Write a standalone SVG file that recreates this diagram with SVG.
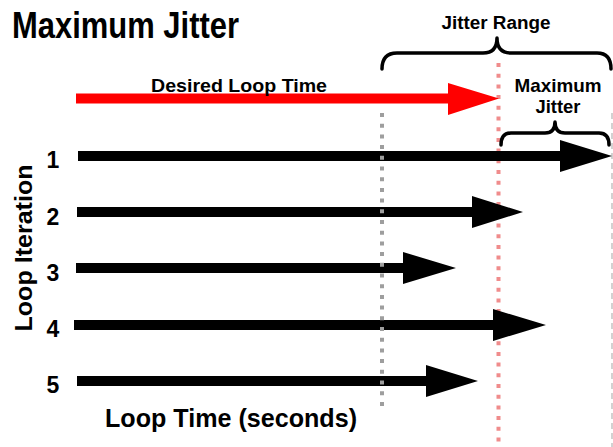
<svg xmlns="http://www.w3.org/2000/svg" width="613" height="447" viewBox="0 0 613 447">
  <style>
    text { font-family: "Liberation Sans", Arial, Helvetica, sans-serif; font-weight: bold; fill: #000; }
    .num { font-size: 23px; text-anchor: middle; }
    .brace { fill: none; stroke: #000; stroke-width: 3.5; stroke-linecap: round; stroke-linejoin: round; }
    .arrow { fill: #000; }
    .desired { fill: #ff0000; }
    .guide-min { stroke: #9e9e9e; stroke-width: 4; stroke-dasharray: 4 6.7; fill: none; }
    .guide-target { stroke: #f08c8c; stroke-width: 4; stroke-dasharray: 4 6.7; fill: none; }
    .guide-max { stroke: #c4c4c4; stroke-width: 1.5; stroke-dasharray: 6 4; fill: none; }
  </style>

  <rect width="613" height="447" fill="#ffffff"/>

  <!-- title -->
  <text id="title" x="12" y="38" font-size="36" textLength="227" lengthAdjust="spacingAndGlyphs">Maximum Jitter</text>

  <!-- axis labels -->
  <text id="y-axis-label" transform="translate(32,248) rotate(-90)" text-anchor="middle" font-size="23" textLength="167" lengthAdjust="spacingAndGlyphs">Loop Iteration</text>
  <text id="x-axis-label" x="105" y="427" font-size="25" textLength="252" lengthAdjust="spacingAndGlyphs">Loop Time (seconds)</text>

  <!-- reference lines drawn beneath the arrows -->
  <g id="guides-under">
    <line class="guide-target" x1="498.5" y1="63" x2="498.5" y2="447"/>
    <line class="guide-max" x1="612" y1="113" x2="612" y2="447"/>
  </g>

  <!-- desired loop time -->
  <g id="desired-loop-time">
    <path class="desired" d="M76,93.5 H448 V83 L499,98.5 L448,115 V103.5 H76 Z"/>
    <text x="151" y="92" font-size="19" textLength="176" lengthAdjust="spacingAndGlyphs">Desired Loop Time</text>
  </g>

  <!-- loop iterations -->
  <g id="iteration-1">
    <text class="num" x="53" y="168">1</text>
    <path class="arrow" d="M78,151 H560 V140 L612,156 L560,172 V161 H78 Z"/>
  </g>
  <g id="iteration-2">
    <text class="num" x="53" y="225">2</text>
    <path class="arrow" d="M77,207 H472 V196 L523,212 L472,228 V217 H77 Z"/>
  </g>
  <g id="iteration-3">
    <text class="num" x="53" y="281">3</text>
    <path class="arrow" d="M76,263 H403 V252 L456,268 L403,284 V273 H76 Z"/>
  </g>
  <g id="iteration-4">
    <text class="num" x="53" y="337">4</text>
    <path class="arrow" d="M74,320 H493 V309 L546,325 L493,341 V330 H74 Z"/>
  </g>
  <g id="iteration-5">
    <text class="num" x="53" y="393">5</text>
    <path class="arrow" d="M77,376 H426 V365 L478,381 L426,397 V386 H77 Z"/>
  </g>

  <!-- minimum loop time guide, drawn over the arrows -->
  <g id="guides-over">
    <line class="guide-min" x1="382" y1="113" x2="382" y2="408"/>
  </g>

  <!-- jitter range brace -->
  <g id="jitter-range">
    <text x="496" y="29" font-size="18" text-anchor="middle" textLength="109" lengthAdjust="spacingAndGlyphs">Jitter Range</text>
    <path class="brace" d="M382,69 Q382,53 397,53 L483,53 Q497,53 497,38 Q497,53 511,53 L597,53 Q611,53 611,69"/>
  </g>

  <!-- maximum jitter brace -->
  <g id="maximum-jitter">
    <text x="558" y="92" font-size="19" text-anchor="middle" textLength="87" lengthAdjust="spacingAndGlyphs">Maximum</text>
    <text x="558" y="113" font-size="19" text-anchor="middle" textLength="45" lengthAdjust="spacingAndGlyphs">Jitter</text>
    <path class="brace" d="M501,145 Q501,133 511,133 L545,133 Q555,133 555,122 Q555,133 565,133 L599,133 Q609,133 609,145"/>
  </g>
</svg>
